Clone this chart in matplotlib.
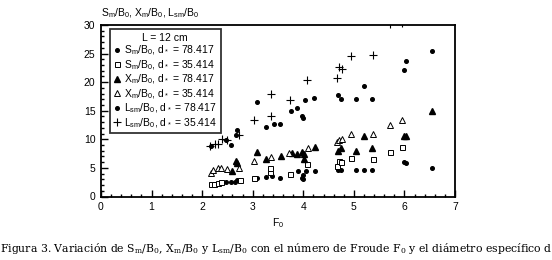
import matplotlib
matplotlib.use("Agg")
import matplotlib.pyplot as plt
from matplotlib.ticker import MultipleLocator

plt.rcParams['font.family'] = ['Liberation Sans', 'DejaVu Sans']
plt.rcParams['mathtext.default'] = 'regular'

# Sm/B0, d* = 78.417 (filled dots)
sm78_x = [2.48, 2.57, 2.64, 2.68, 3.09, 3.27, 3.39, 3.53, 3.74, 3.89, 4.00, 3.98, 4.00, 4.05, 4.23,
          4.69, 4.74, 5.04, 5.20, 5.36, 5.99, 6.03, 6.55]
sm78_y = [2.45, 2.45, 2.6, 2.9, 3.3, 3.4, 3.5, 3.3, 3.8, 4.4, 3.8, 3.2, 3.0, 4.4, 4.4,
          4.6, 4.6, 4.6, 4.6, 4.6, 6.0, 5.9, 5.0]
# Sm/B0, d* = 35.414 (open squares)
sm35_x = [2.17, 2.23, 2.32, 2.38, 2.75, 3.02, 3.35, 3.35, 3.74, 4.08, 4.66, 4.70, 4.74, 4.94, 5.37, 5.72, 5.95]
sm35_y = [2.2, 2.2, 2.3, 2.5, 2.9, 3.3, 4.3, 5.0, 4.0, 5.6, 5.3, 6.2, 6.0, 6.75, 6.6, 7.75, 8.7]
# Xm/B0, d* = 78.417 (filled triangles)
xm78_x = [2.60, 2.67, 2.69, 3.09, 3.27, 3.55, 3.77, 3.88, 3.97, 4.02, 4.02, 4.23, 4.68, 4.74,
          5.04, 5.20, 5.36, 5.99, 6.03, 6.55]
xm78_y = [4.4, 6.2, 5.9, 7.8, 6.6, 7.0, 7.6, 7.5, 7.75, 7.5, 6.5, 8.7, 7.9, 8.5,
          7.9, 10.5, 8.5, 10.5, 10.5, 14.9]
# Xm/B0, d* = 35.414 (open triangles)
xm35_x = [2.17, 2.22, 2.32, 2.38, 2.50, 2.73, 3.02, 3.36, 3.72, 4.09, 4.67, 4.71, 4.76, 4.94, 5.38, 5.72, 5.95]
xm35_y = [4.1, 4.7, 5.0, 4.9, 4.8, 5.0, 6.2, 6.9, 7.6, 8.5, 9.5, 9.9, 10.0, 11.0, 11.0, 12.5, 13.4]
# Lsm/B0, d* = 78.417 (filled dots)
ls78_x = [2.17, 2.47, 2.58, 2.67, 2.68, 3.09, 3.26, 3.42, 3.53, 3.75, 3.88, 3.98, 3.99, 4.04, 4.22,
          4.68, 4.74, 5.04, 5.20, 5.36, 5.99, 6.03, 6.54]
ls78_y = [8.8, 9.9, 9.0, 10.7, 11.6, 16.6, 12.1, 12.6, 12.6, 14.9, 15.5, 14.1, 13.7, 16.9, 17.3,
          17.8, 17.1, 17.1, 19.3, 17.1, 22.2, 23.7, 25.5]
# Lsm/B0, d* = 35.414 (plus)
ls35_x = [2.15, 2.25, 2.31, 2.40, 2.50, 2.73, 3.02, 3.36, 3.37, 3.74, 4.08, 4.67, 4.70, 4.76, 4.94, 5.38, 5.72, 5.95]
ls35_y = [8.9, 9.1, 9.2, 10.1, 9.8, 10.7, 13.4, 14.0, 18.0, 16.9, 20.4, 20.7, 22.7, 22.3, 24.6, 24.7, 30.2, 30.3]

labels = [r"S$_m$/B$_0$, d$_*$ = 78.417", r"S$_m$/B$_0$, d$_*$ = 35.414",
          r"X$_m$/B$_0$, d$_*$ = 78.417", r"X$_m$/B$_0$, d$_*$ = 35.414",
          r"L$_{sm}$/B$_0$, d$_*$ = 78.417", r"L$_{sm}$/B$_0$, d$_*$ = 35.414"]

fig = plt.figure(figsize=(5.52, 2.6), dpi=100)
ax = fig.add_axes([101/552, 63.5/260, 354/552, 171.5/260])

ax.plot(sm78_x, sm78_y, 'o', ms=2.6, color='black', label=labels[0])
ax.plot(sm35_x, sm35_y, 's', ms=3.6, mfc='white', mec='black', mew=0.7, label=labels[1])
ax.plot(xm78_x, xm78_y, '^', ms=3.8, color='black', label=labels[2])
ax.plot(xm35_x, xm35_y, '^', ms=4.2, mfc='white', mec='black', mew=0.7, label=labels[3])
ax.plot(ls78_x, ls78_y, 'o', ms=2.6, color='black', label=labels[4])
ax.plot(ls35_x, ls35_y, '+', ms=6, color='black', mew=0.8, label=labels[5])

ax.set_xlim(0, 7)
ax.set_ylim(0, 30)
ax.xaxis.set_major_locator(MultipleLocator(1))
ax.xaxis.set_minor_locator(MultipleLocator(0.2))
ax.yaxis.set_major_locator(MultipleLocator(5))
ax.yaxis.set_minor_locator(MultipleLocator(1))
ax.tick_params(which='both', direction='in', labelsize=7.5, width=1.0, top=False, right=False)
ax.tick_params(which='major', length=5, pad=4)
ax.tick_params(which='minor', length=2.5)
for s in ax.spines.values():
    s.set_linewidth(1.3)

ax.set_xlabel(r"F$_0$", fontsize=7.5, labelpad=3)
fig.text(101/552, 1 - 13/260, r"S$_m$/B$_0$, X$_m$/B$_0$, L$_{sm}$/B$_0$", fontsize=7.5,
         ha='left', va='center')

leg = ax.legend(loc='upper left', bbox_to_anchor=(0.025, 0.975), title="L = 12 cm",
                fontsize=7.5, title_fontsize=7.5, frameon=True, fancybox=False,
                handlelength=0.6, handletextpad=0.4, borderpad=0.35, labelspacing=0.08,
                borderaxespad=0.0)
leg.get_frame().set_edgecolor('black')
leg.get_frame().set_linewidth(1.3)

fig.text(0.0, 12/260,
         r"Figura 3. Variación de S$_m$/B$_0$, X$_m$/B$_0$ y L$_{sm}$/B$_0$ con el número de Froude F$_0$ y el diámetro específico d",
         fontsize=7.85, family='DejaVu Serif', ha='left', va='center')

fig.savefig("out.png", dpi=100)
